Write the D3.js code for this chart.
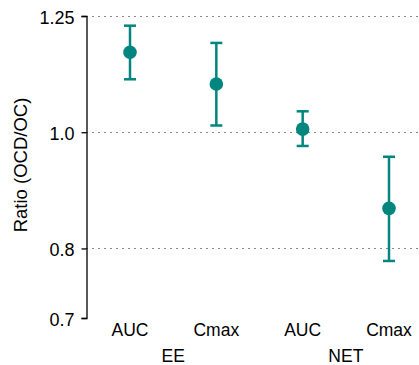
<!DOCTYPE html>
<html><head><meta charset="utf-8">
<script src="https://cdn.jsdelivr.net/npm/d3@7"></script>
<style>body{margin:0;background:#fff}svg{display:block}text{font-family:"Liberation Sans",Arial,sans-serif;fill:#000}</style>
</head><body>
<svg id="c" width="419" height="365"></svg>
<script>
const categories = ["AUC","Cmax","AUC","Cmax"];
const groups = ["EE","EE","NET","NET"];
const groupNames = ["EE","NET"];
const ratios = [1.166, 1.097, 1.006, 0.864];
const lowerCI = [1.107, 1.013, 0.974, 0.781];
const upperCI = [1.227, 1.187, 1.041, 0.954];
const yTicks = [0.7, 0.8, 1.0, 1.25];
const yTickLabels = ["0.7","0.8","1.0","1.25"];
const gridValues = [0.8, 1.0, 1.25];

const svg = d3.select("#c");
const color = "#00857f";
const y = d3.scaleLog().domain([0.7, 1.25]).range([318, 16]);
const idx = d3.range(categories.length);
const x = d3.scalePoint().domain(idx).range([130, 389]);

// grid
svg.append("g").selectAll("line").data(gridValues).join("line")
  .attr("x1", 86).attr("x2", 419)
  .attr("y1", d => Math.round(y(d)) + 0.5).attr("y2", d => Math.round(y(d)) + 0.5)
  .attr("stroke", "#888").attr("stroke-width", 1.2).attr("stroke-dasharray", "2,4");

// y axis
const ax = svg.append("g").attr("transform", "translate(86.5,0)")
  .call(d3.axisLeft(y).tickValues(yTicks).tickFormat((d, i) => yTickLabels[i]).tickSize(5).tickPadding(7));
ax.select(".domain").attr("stroke", "#000").attr("stroke-width", 1.3);
ax.selectAll(".tick line").attr("stroke", "#000").attr("stroke-width", 1.3);
ax.selectAll(".tick text").attr("font-size", 18).attr("dy", "0.4em")
  .attr("font-family", "Liberation Sans, Arial, sans-serif").attr("fill", "#000");

// y title
svg.append("text").attr("transform", "translate(27,165) rotate(-90)")
  .attr("text-anchor", "middle").attr("font-size", 18.5).text("Ratio (OCD/OC)");

// x labels
svg.append("g").selectAll("text").data(idx).join("text")
  .attr("x", d => x(d)).attr("y", 335.5).attr("text-anchor", "middle")
  .attr("font-size", 17.5).text(d => categories[d]);
svg.append("g").selectAll("text").data(groupNames).join("text")
  .attr("x", g => d3.mean(idx.filter(i => groups[i] === g), i => x(i)))
  .attr("y", 362).attr("text-anchor", "middle").attr("font-size", 17.5).text(g => g);

// error bars
const eb = svg.append("g").attr("stroke", color).attr("stroke-width", 2.5);
eb.selectAll(".v").data(idx).join("line")
  .attr("x1", d => x(d)).attr("x2", d => x(d))
  .attr("y1", d => y(lowerCI[d])).attr("y2", d => y(upperCI[d]));
eb.selectAll(".u").data(idx).join("line")
  .attr("x1", d => x(d) - 6).attr("x2", d => x(d) + 6)
  .attr("y1", d => y(upperCI[d])).attr("y2", d => y(upperCI[d]));
eb.selectAll(".l").data(idx).join("line")
  .attr("x1", d => x(d) - 6).attr("x2", d => x(d) + 6)
  .attr("y1", d => y(lowerCI[d])).attr("y2", d => y(lowerCI[d]));

svg.append("g").selectAll("circle").data(idx).join("circle")
  .attr("cx", d => x(d)).attr("cy", d => y(ratios[d])).attr("r", 6.8).attr("fill", color);
</script>
</body></html>
